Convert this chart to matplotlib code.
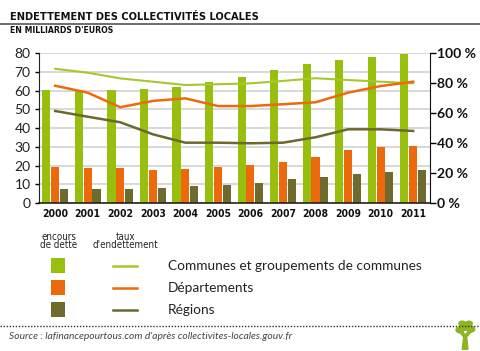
import matplotlib
matplotlib.use("Agg")
import matplotlib.pyplot as plt
import numpy as np
from matplotlib.patches import Rectangle, Circle, Polygon
from matplotlib.lines import Line2D

# Data
years = ['2000', '2001', '2002', '2003', '2004', '2005',
         '2006', '2007', '2008', '2009', '2010', '2011']
communes_dette = [60.5, 60.0, 60.5, 61.0, 62.0, 64.3, 67.3, 70.8, 74.3, 76.5, 78.0, 79.6]
departements_dette = [19.5, 18.9, 18.9, 17.5, 18.4, 19.5, 20.4, 21.8, 24.8, 28.4, 30.1, 30.5]
regions_dette = [7.6, 7.5, 7.6, 8.0, 9.2, 9.8, 11.0, 12.8, 14.0, 15.6, 16.8, 17.9]

communes_taux = [89.5, 86.9, 83.1, 80.9, 78.7, 79.2, 79.8, 81.4, 83.2, 82.0, 80.9, 79.8]
departements_taux = [78.2, 73.6, 63.9, 68.1, 69.8, 64.7, 64.7, 65.9, 67.2, 73.6, 78.0, 80.9]
regions_taux = [61.4, 57.6, 53.9, 45.9, 40.3, 40.3, 39.9, 40.3, 43.9, 49.2, 49.2, 48.1]

series_names = ['Communes et groupements de communes', 'Départements', 'Régions']

bar_colors = ['#98bf0e', '#ec6a0b', '#6f6a2d']
line_colors = ['#a5c82b', '#ec6a0b', '#6b6930']

narrow = dict(family='DejaVu Sans', fontstretch='condensed')
geo = ['Lato', 'DejaVu Sans']

fig = plt.figure(figsize=(4.8, 3.51), dpi=100)

# Title and header rule
fig.text(0.021, 0.943, 'ENDETTEMENT DES COLLECTIVITÉS LOCALES', **narrow,
         fontsize=7.9, fontweight='bold', color='#111111', va='baseline')
fig.add_artist(Line2D([0, 1], [0.933, 0.933], color='#555555', lw=1.2))
fig.text(0.021, 0.905, "EN MILLIARDS D'EUROS", **narrow,
         fontsize=6.2, fontweight='bold', color='#111111', va='baseline')

ax = fig.add_axes([0.081, 0.421, 0.815, 0.428])
x = np.arange(len(years))
w = 0.25
ax.bar(x - 0.27, communes_dette, w, color=bar_colors[0], zorder=2)
ax.bar(x, departements_dette, w, color=bar_colors[1], zorder=2)
ax.bar(x + 0.27, regions_dette, w, color=bar_colors[2], zorder=2)

ax.set_xlim(-0.5, 11.52)
ax.set_ylim(0, 80)
ax.set_yticks(range(0, 81, 10))
ax.set_yticklabels([str(v) for v in range(0, 81, 10)], family=geo, fontsize=10, color='#222222')
ax.set_xticks(x)
ax.set_xticklabels(years, **narrow, fontsize=7.5, fontweight='bold', color='#111111')
ax.tick_params(axis='x', length=0, pad=4)
ax.tick_params(axis='y', length=3, width=1, pad=3)
ax.grid(axis='y', color='#d2d2d2', lw=1.2, zorder=0)
for s in ['top', 'right']:
    ax.spines[s].set_visible(False)
ax.spines['left'].set_color('#222222')
ax.spines['bottom'].set_color('#222222')
ax.spines['bottom'].set_linewidth(1.2)

ax2 = ax.twinx()
ax2.set_ylim(0, 100)
ax2.plot(x, communes_taux, color=line_colors[0], lw=1.5, zorder=3)
ax2.plot(x, departements_taux, color=line_colors[1], lw=1.8, zorder=3)
ax2.plot(x, regions_taux, color=line_colors[2], lw=1.8, zorder=3)
ax2.set_yticks(range(0, 101, 20))
ax2.set_yticklabels(['%d %%' % v for v in range(0, 101, 20)], family=geo,
                    fontsize=10, fontweight='bold', color='#111111')
ax2.tick_params(axis='y', length=4, width=1, pad=1)
for s in ['top', 'left', 'bottom']:
    ax2.spines[s].set_visible(False)
ax2.spines['right'].set_color('#111111')

# Custom legend
fig.text(0.123, 0.313, 'encours\nde dette', **narrow, fontsize=7,
         ha='center', va='center', linespacing=0.8, color='#222222')
fig.text(0.262, 0.313, "taux\nd'endettement", **narrow, fontsize=7,
         ha='center', va='center', linespacing=0.8, color='#222222')
for i, name in enumerate(series_names):
    yc = 0.243 - i * 0.0627
    fig.add_artist(Rectangle((0.106, yc - 0.021), 0.029, 0.042,
                             facecolor=bar_colors[i], edgecolor='none'))
    fig.add_artist(Line2D([0.235, 0.285], [yc, yc], color=line_colors[i], lw=1.8))
    fig.text(0.35, yc, name, family=geo, fontsize=9.8, va='center', color='#222222')

# Footer
fig.add_artist(Line2D([0, 1], [0.072, 0.072], color='#333333', lw=1, ls=(0, (1, 1.2))))
fig.text(0.018, 0.040, "Source : lafinancepourtous.com d'après collectivites-locales.gouv.fr",
         family=geo, fontsize=7.4, style='italic', color='#444444', va='center')

# small tree logo
tree_green = '#8cb520'
fig.add_artist(Polygon([(0.963, 0.005), (0.975, 0.005), (0.972, 0.04), (0.982, 0.055),
                        (0.978, 0.06), (0.969, 0.045), (0.962, 0.06), (0.957, 0.055),
                        (0.966, 0.04)], closed=True, color=tree_green))
for cx, cy, r in [(0.958, 0.06, 0.008), (0.969, 0.068, 0.009), (0.981, 0.062, 0.008),
                  (0.963, 0.078, 0.007), (0.977, 0.078, 0.007)]:
    fig.add_artist(Circle((cx, cy), r, color=tree_green, transform=fig.transFigure))

fig.savefig('out.png', dpi=100)
